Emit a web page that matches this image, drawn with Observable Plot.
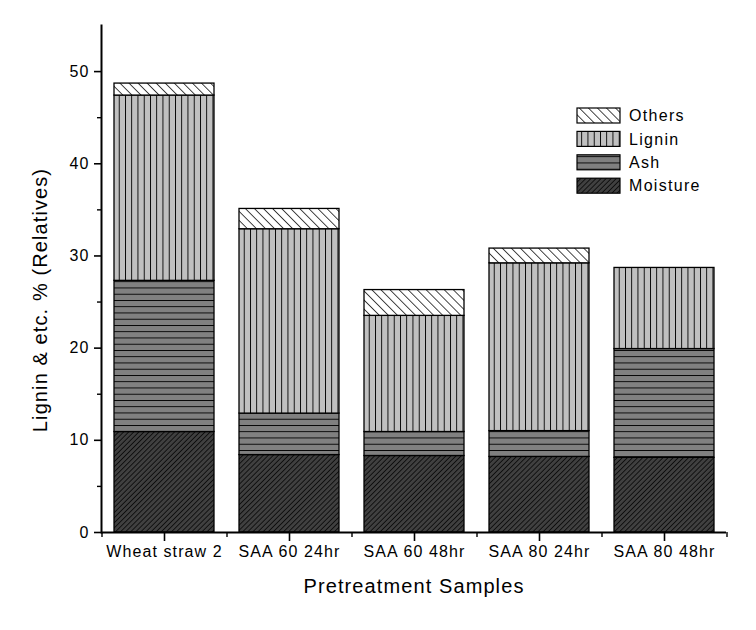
<!DOCTYPE html>
<html><head><meta charset="utf-8">
<script src="https://cdn.jsdelivr.net/npm/d3@7"></script>
<script src="https://cdn.jsdelivr.net/npm/@observablehq/plot@0.6"></script>
<style>body{margin:0;background:#fff}</style>
</head><body><div id="chart"></div>
<script>
const samples = ["Wheat straw 2", "SAA 60 24hr", "SAA 60 48hr", "SAA 80 24hr", "SAA 80 48hr"];
const series = ["Moisture", "Ash", "Lignin", "Others"];
const moisture = [10.9, 8.4, 8.3, 8.2, 8.1];
const ash = [16.4, 4.5, 2.6, 2.8, 11.8];
const lignin = [20.1, 20.0, 12.6, 18.2, 8.8];
const others = [1.3, 2.2, 2.8, 1.6, 0];
const yTicks = [0, 10, 20, 30, 40, 50];
const yMinorTicks = [5, 15, 25, 35, 45];
const xLabel = "Pretreatment Samples";
const yLabel = "Lignin & etc. % (Relatives)";

const seriesValues = [moisture, ash, lignin, others];
const rows = samples.flatMap((s, i) => series.map((k, j) => ({sample: s, series: k, value: seriesValues[j][i]})));
const patId = s => `pat-${s}`;

const font = "Liberation Sans, Arial, Helvetica, sans-serif";
const plot = Plot.plot({
  width: 756, height: 630,
  marginLeft: 101, marginRight: 30, marginTop: 25, marginBottom: 98,
  style: {fontFamily: font, fontSize: "16px", background: "#fff", color: "#000", letterSpacing: "1.1px"},
  x: {domain: samples, paddingInner: 0.2, paddingOuter: 0.1, label: null},
  y: {domain: [0, 55], label: null},
  color: {domain: series, range: series.map(s => `url(#${patId(s)})`)},
  marks: [
    Plot.barY(rows, {x: "sample", y: "value", fill: "series", stroke: "black", strokeWidth: 1.3, filter: d => d.value > 0}),
    Plot.axisY({ticks: yTicks, tickSize: 7, tickPadding: 5, strokeWidth: 1.6, label: null, fontSize: 16}),
    Plot.axisY({ticks: yMinorTicks, tickSize: 4, strokeWidth: 1.4, tickFormat: () => "", label: null}),
    Plot.axisX({tickSize: 9, tickPadding: 4, strokeWidth: 1.6, label: null, fontSize: 16}),
    Plot.ruleX(samples, {x: d => d, dx: -62.5, y1: 0, y2: -0.55, strokeWidth: 1.4}),
    Plot.ruleX(samples.slice(-1), {x: d => d, dx: 62.5, y1: 0, y2: -0.55, strokeWidth: 1.4}),
    Plot.ruleY([0], {strokeWidth: 2}),
    Plot.frame({anchor: "left", strokeWidth: 2}),
    Plot.text([xLabel], {frameAnchor: "bottom", dy: 60, fontSize: 20, text: d => d, letterSpacing: "1.9px"}),
    Plot.text([yLabel], {frameAnchor: "left", textAnchor: "middle", dx: -61, dy: 21, rotate: -90, fontSize: 20, text: d => d, letterSpacing: "1.4px"})
  ]
});

const svg = d3.select(plot);
const defs = svg.insert("defs", ":first-child");
function hatch(id, bg, size, angle, sw) {
  const p = defs.append("pattern").attr("id", id).attr("patternUnits", "userSpaceOnUse")
    .attr("width", size).attr("height", 10);
  if (angle) p.attr("patternTransform", `rotate(${angle})`);
  p.append("rect").attr("width", size).attr("height", 10).attr("fill", bg);
  p.append("line").attr("x1", 0.4).attr("x2", 0.4).attr("y1", 0).attr("y2", 10).attr("stroke", "#000").attr("stroke-width", sw);
}
hatch(patId("Moisture"), "#404040", 3.6, 45, 0.8);
hatch(patId("Lignin"), "#c0c0c0", 6.25, 0, 1);
hatch(patId("Ash"), "#808080", 6.25, 90, 1);
hatch(patId("Others"), "#ffffff", 6.4, -45, 0.8);

// legend
const lg = svg.append("g").attr("font-family", font).attr("font-size", 16)
  .attr("letter-spacing", "1.3px").attr("text-anchor", "start");
series.slice().reverse().forEach((s, i) => {
  const y = 108 + i * 23.4;
  lg.append("rect").attr("x", 577).attr("y", y).attr("width", 43).attr("height", 15)
    .attr("fill", `url(#${patId(s)})`).attr("stroke", "#000").attr("stroke-width", 1.2);
  lg.append("text").attr("x", 629).attr("y", y + 7.5).attr("dy", "0.36em").attr("text-anchor", "start").text(s);
});

document.getElementById("chart").append(plot);
</script>
</body></html>
